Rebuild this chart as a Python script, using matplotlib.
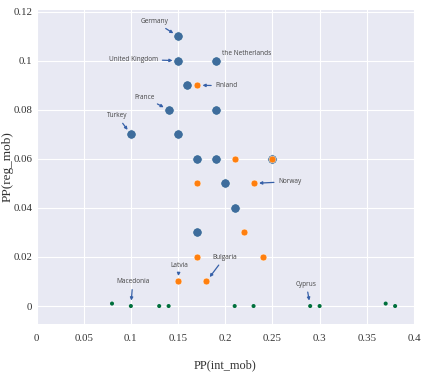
import matplotlib
matplotlib.use("Agg")
import matplotlib.pyplot as plt

# Data
blue_x = [0.15, 0.15, 0.19, 0.16, 0.14, 0.19, 0.10, 0.15, 0.17, 0.19, 0.25, 0.20, 0.21, 0.17]
blue_y = [0.11, 0.10, 0.10, 0.09, 0.08, 0.08, 0.07, 0.07, 0.06, 0.06, 0.06, 0.05, 0.04, 0.03]

orange_x = [0.17, 0.21, 0.25, 0.17, 0.23, 0.22, 0.17, 0.24, 0.15, 0.18]
orange_y = [0.09, 0.06, 0.06, 0.05, 0.05, 0.03, 0.02, 0.02, 0.01, 0.01]

green_x = [0.08, 0.10, 0.13, 0.14, 0.21, 0.23, 0.29, 0.30, 0.37, 0.38]
green_y = [0.001, 0.0, 0.0, 0.0, 0.0, 0.0, 0.0, 0.0, 0.001, 0.0]

x_ticks = [0, 0.05, 0.1, 0.15, 0.2, 0.25, 0.3, 0.35, 0.4]
x_tick_labels = ["0", "0.05", "0.1", "0.15", "0.2", "0.25", "0.3", "0.35", "0.4"]
y_ticks = [0, 0.02, 0.04, 0.06, 0.08, 0.1, 0.12]
y_tick_labels = ["0", "0.02", "0.04", "0.06", "0.08", "0.1", "0.12"]

# annotations: name, point x, point y
ann_names = ["Germany", "United Kingdom", "the Netherlands", "Finland", "France",
             "Turkey", "Norway", "Latvia", "Bulgaria", "Macedonia", "Cyprus"]
ann_px = [0.15, 0.15, 0.19, 0.17, 0.14, 0.10, 0.23, 0.15, 0.18, 0.10, 0.29]
ann_py = [0.11, 0.10, 0.10, 0.09, 0.08, 0.07, 0.05, 0.01, 0.01, 0.0, 0.0]

# text placement (style) in data coords and alignment, arrow flag
ann_text_pos = [(0.125, 0.1160, "center", True),
                (0.129, 0.1006, "right", True),
                (0.197, 0.1028, "left", False),
                (0.1895, 0.0898, "left", True),
                (0.114, 0.0852, "center", True),
                (0.0855, 0.0775, "center", True),
                (0.256, 0.0507, "left", True),
                (0.151, 0.0164, "center", True),
                (0.199, 0.0197, "center", True),
                (0.102, 0.0098, "center", True),
                (0.286, 0.0088, "center", True)]

fig = plt.figure(figsize=(4.23, 3.82), dpi=100)
ax = fig.add_axes([0.0863, 0.152, 0.8924, 0.822])
ax.set_facecolor("#e8e9f3")

ax.scatter(blue_x, blue_y, s=46, color="#3e6d9c", edgecolors="white", linewidths=0.5, zorder=3)
ax.scatter(orange_x, orange_y, s=24, color="#ff7f0e", edgecolors="white", linewidths=0.3, zorder=4)
ax.scatter(green_x, green_y, s=8.5, color="#00703c", edgecolors="none", zorder=4)

for name, px, py, (tx, ty, ha, arrow) in zip(ann_names, ann_px, ann_py, ann_text_pos):
    if arrow:
        ax.annotate(name, xy=(px, py), xytext=(tx, ty), ha=ha, va="center",
                    fontsize=4.7, family="Open Sans", color="#444444",
                    arrowprops=dict(arrowstyle="-|>,head_length=0.35,head_width=0.18",
                                    color="#3660a8", lw=0.9,
                                    shrinkA=1, shrinkB=4),
                    zorder=5)
    else:
        ax.text(tx, ty, name, ha=ha, va="center", fontsize=4.7, family="Open Sans",
                color="#444444", zorder=5)

ax.set_xlim(0, 0.4)
ax.set_ylim(-0.0073, 0.1207)
ax.set_xticks(x_ticks)
ax.set_xticklabels(x_tick_labels)
ax.set_yticks(y_ticks)
ax.set_yticklabels(y_tick_labels)
ax.grid(True, color="white", linewidth=0.8)
ax.set_axisbelow(True)
for s in ax.spines.values():
    s.set_visible(False)
ax.tick_params(length=0, labelsize=7.8, colors="#333333")
ax.tick_params(axis="x", pad=7)
ax.tick_params(axis="y", pad=3)
for lab in ax.get_xticklabels() + ax.get_yticklabels():
    lab.set_family("Liberation Serif")

ax.set_xlabel("PP(int_mob)", family="Liberation Serif", fontsize=8.8, color="#333333", labelpad=12)
ax.set_ylabel("PP(reg_mob)", family="Liberation Serif", fontsize=9.5, color="#333333")
ax.yaxis.set_label_coords(-0.061, 0.5)

fig.savefig("out.png", dpi=100)
